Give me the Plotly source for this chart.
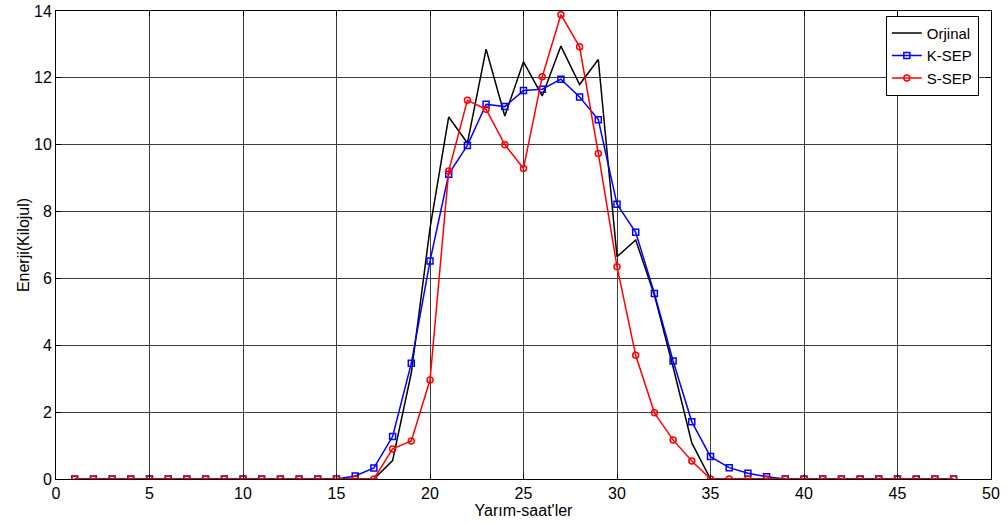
import plotly.graph_objects as go

x = list(range(1, 49))
orjinal = [0]*17 + [0.55, 3.17, 7.5, 10.83, 10.05, 12.86, 10.86, 12.48, 11.46, 12.95, 11.8, 12.55,
                    6.65, 7.15, 5.5, 3.35, 1.08, 0] + [0]*13
k_sep = [0]*15 + [0.09, 0.33, 1.27, 3.46, 6.52, 9.12, 9.98, 11.21, 11.14, 11.62, 11.66, 11.96, 11.43,
                  10.75, 8.22, 7.38, 5.55, 3.53, 1.71, 0.67, 0.34, 0.17, 0.07] + [0]*10
s_sep = [0]*17 + [0.9, 1.14, 2.96, 9.21, 11.33, 11.06, 10.0, 9.29, 12.03, 13.89, 12.93, 9.74,
                  6.35, 3.70, 1.98, 1.17, 0.54, 0] + [0]*13

font = dict(family="Liberation Sans, Arial, sans-serif", size=16, color="black")

fig = go.Figure()
fig.add_trace(go.Scatter(x=x, y=orjinal, mode="lines", name="Orjinal",
                         line=dict(color="black", width=1.5)))
fig.add_trace(go.Scatter(x=x, y=k_sep, mode="lines+markers", name="K-SEP",
                         line=dict(color="blue", width=1.5),
                         marker=dict(symbol="square-open", size=6, color="blue", line=dict(width=1.5))))
fig.add_trace(go.Scatter(x=x, y=s_sep, mode="lines+markers", name="S-SEP",
                         line=dict(color="red", width=1.5),
                         marker=dict(symbol="circle-open", size=6, color="red", line=dict(width=1.5))))

axis_common = dict(showline=True, linecolor="black", linewidth=1, mirror="ticks",
                   ticks="inside", ticklen=5, tickcolor="black",
                   showgrid=True, gridcolor="#3c3c3c", gridwidth=1, zeroline=False,
                   tickfont=font, automargin=False)
fig.update_xaxes(range=[0, 50], dtick=5, tick0=0,
                 title=dict(text="Yarım-saat'ler", font=font, standoff=0), **axis_common)
fig.update_yaxes(range=[0, 14], dtick=2, tick0=0,
                 title=dict(text="Enerji(Kilojul)", font=font, standoff=0), **axis_common)

fig.update_layout(
    width=1008, height=525,
    margin=dict(l=56, r=17, t=11, b=46),
    paper_bgcolor="white", plot_bgcolor="white",
    font=font,
    showlegend=True,
    legend=dict(x=0.987, y=0.99, xanchor="right", yanchor="top",
                bgcolor="white", bordercolor="black", borderwidth=1,
                font=dict(family="Liberation Sans, Arial, sans-serif", size=15, color="black"),
                tracegroupgap=0, itemwidth=30),
)

fig.write_html("out.html")
